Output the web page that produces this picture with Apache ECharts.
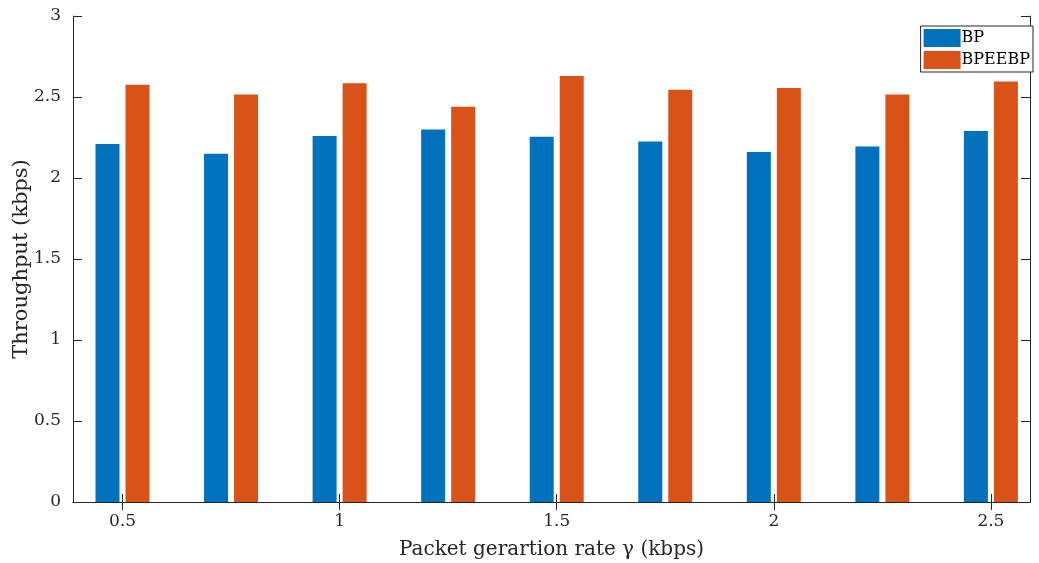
<!DOCTYPE html>
<html>
<head>
<meta charset="utf-8">
<script src="https://cdn.jsdelivr.net/npm/echarts@6/dist/echarts.min.js"></script>
<style>html,body{margin:0;padding:0;background:#fff;}#c{width:1039px;height:563px;}</style>
</head>
<body>
<div id="c"></div>
<script>
var rates = [0.5, 0.75, 1, 1.25, 1.5, 1.75, 2, 2.25, 2.5];
var tickLabels = [0.5, 1, 1.5, 2, 2.5];
var bp = [2.21, 2.15, 2.26, 2.30, 2.255, 2.225, 2.16, 2.195, 2.29];
var bpeebp = [2.575, 2.515, 2.585, 2.44, 2.63, 2.545, 2.555, 2.515, 2.595];

var FONT = '"DejaVu Serif", "Liberation Serif", serif';
var AX = '#262626';

function pairs(vals) { return rates.map(function (r, i) { return [r, vals[i]]; }); }

var chart = echarts.init(document.getElementById('c'));
chart.setOption({
  animation: false,
  backgroundColor: '#ffffff',
  grid: { left: 73, right: 9, top: 16, bottom: 61, containLabel: false, outerBoundsMode: 'none' },
  legend: {
    right: 6, top: 26, orient: 'vertical', itemWidth: 37, itemHeight: 18, itemGap: 4,
    padding: [3, 3, 3, 3], borderColor: '#262626', borderWidth: 1, backgroundColor: '#fff',
    textStyle: { fontFamily: FONT, fontSize: 16, color: '#000', padding: [0, 0, 0, -4] },
    icon: 'rect', data: ['BP', 'BPEEBP']
  },
  xAxis: [{
    type: 'value', min: 0.386, max: 2.59, position: 'bottom',
    name: 'Packet gerartion rate γ (kbps)', nameLocation: 'middle', nameGap: 38,
    nameMoveOverlap: false,
    nameTextStyle: { fontFamily: FONT, fontSize: 20, color: '#262626' },
    axisLine: { show: true, lineStyle: { color: AX, width: 1 } },
    axisTick: { show: true, inside: true, length: 8, customValues: tickLabels, lineStyle: { color: AX } },
    axisLabel: { show: true, customValues: tickLabels, fontFamily: FONT, fontSize: 17, color: '#262626', margin: 11 },
    splitLine: { show: false }
  }, {
    type: 'value', min: 0.386, max: 2.59, position: 'top',
    axisLine: { show: true, lineStyle: { color: AX, width: 1 } },
    axisTick: { show: true, inside: true, length: 8, customValues: tickLabels, lineStyle: { color: AX } },
    axisLabel: { show: false },
    splitLine: { show: false }
  }],
  yAxis: [{
    type: 'value', min: 0, max: 3, interval: 0.5, position: 'left',
    name: 'Throughput (kbps)', nameLocation: 'middle', nameGap: 41,
    nameMoveOverlap: false,
    nameTextStyle: { fontFamily: FONT, fontSize: 21, color: '#262626' },
    axisLine: { show: true, lineStyle: { color: AX, width: 1 } },
    axisTick: { show: true, inside: true, length: 9, lineStyle: { color: AX } },
    axisLabel: { fontFamily: FONT, fontSize: 17, color: '#262626', margin: 12 },
    splitLine: { show: false }
  }, {
    type: 'value', min: 0, max: 3, interval: 0.5, position: 'right',
    axisLine: { show: true, lineStyle: { color: AX, width: 1 } },
    axisTick: { show: true, inside: true, length: 9, lineStyle: { color: AX } },
    axisLabel: { show: false },
    splitLine: { show: false }
  }],
  series: [{
    name: 'BP', type: 'bar', xAxisIndex: 0, yAxisIndex: 0,
    barWidth: 24, barGap: '25%',
    itemStyle: { color: '#0072BD' },
    data: pairs(bp)
  }, {
    name: 'BPEEBP', type: 'bar', xAxisIndex: 0, yAxisIndex: 0,
    barWidth: 24, barGap: '25%',
    itemStyle: { color: '#D95319' },
    data: pairs(bpeebp)
  }]
});
</script>
</body>
</html>
